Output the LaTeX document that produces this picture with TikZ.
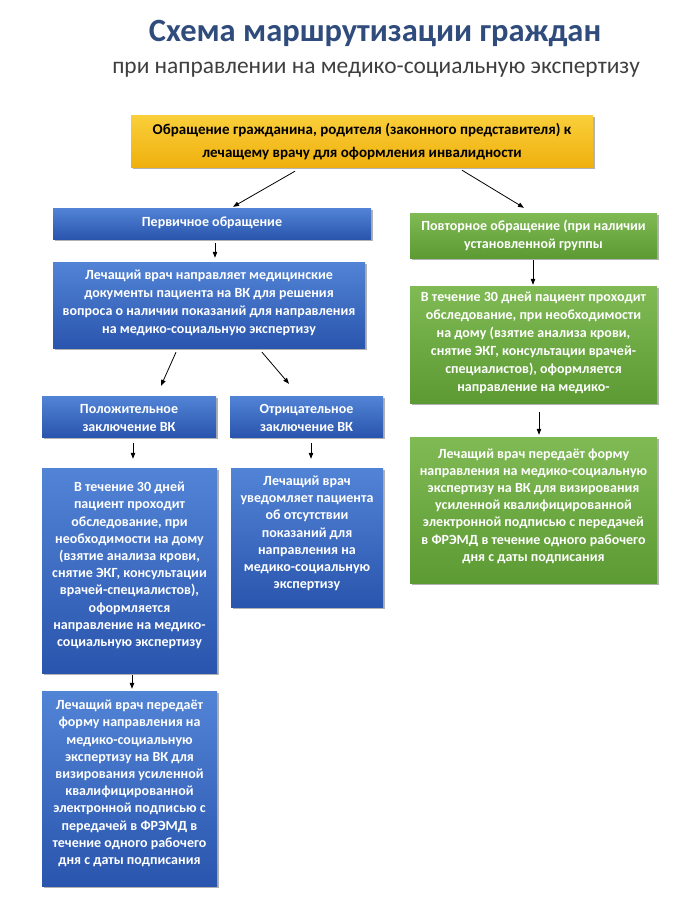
\documentclass[tikz,border=0pt]{standalone}
\usepackage{fontspec}
\setmainfont{Carlito}
\usetikzlibrary{arrows.meta,shadows}
\definecolor{titleblue}{HTML}{2F4C7C}
\definecolor{subgray}{HTML}{3F3F3F}
\definecolor{blueT}{HTML}{5284D6}
\definecolor{blueB}{HTML}{2A55AE}
\definecolor{greenT}{HTML}{80BA55}
\definecolor{greenB}{HTML}{5C9A33}
\definecolor{yellowT}{HTML}{FACF3A}
\definecolor{yellowB}{HTML}{EFB00E}
\begin{document}
\begin{tikzpicture}[x=1pt,y=-1pt,
  box/.style={rectangle, draw=none, inner sep=0pt,
    drop shadow={shadow xshift=2pt,shadow yshift=-2pt,opacity=0.3,fill=black}},
  bluebox/.style={box, top color=blueT, bottom color=blueB},
  greenbox/.style={box, top color=greenT, bottom color=greenB},
  yellowbox/.style={box, top color=yellowT, bottom color=yellowB},
  txt/.style={text=white, align=center, inner sep=0pt,
    font=\bfseries\fontsize{14}{17.2}\selectfont},
  ytxt/.style={text=black, align=center, inner sep=0pt,
    font=\bfseries\fontsize{15}{23}\selectfont},
  arr/.style={-{Triangle[length=6pt,width=4.5pt]}, line width=0.8pt, black}
]
\useasboundingbox (0,0) rectangle (700,900);
\fill[white] (0,0) rectangle (700,900);

% titles
\node[anchor=base, text=titleblue, font=\bfseries\fontsize{32.5}{38}\selectfont, inner sep=0pt] (title) at (375,41) {Схема маршрутизации граждан};
\node[anchor=base, text=subgray, font=\fontsize{23.4}{28}\selectfont, inner sep=0pt] (subtitle) at (376,73) {при направлении на медико-социальную экспертизу};

% boxes
\node[yellowbox, minimum width=462pt, minimum height=52pt] (yel) at (362,141) {};
\node[ytxt] (tyel) at (362,141.5) {Обращение гражданина, родителя (законного представителя) к\\лечащему врачу для оформления инвалидности};

\node[bluebox, minimum width=318pt, minimum height=31pt] (p1) at (212,223.5) {};
\node[txt] (tp1) at (212,222.5) {Первичное обращение};

\node[bluebox, minimum width=312pt, minimum height=86pt] (b2) at (209,305) {};
\node[txt, font=\bfseries\fontsize{14}{18}\selectfont] (tb2) at (209,303) {Лечащий врач направляет медицинские\\документы пациента на ВК для решения\\вопроса о наличии показаний для направления\\на медико-социальную экспертизу};

\node[bluebox, minimum width=174pt, minimum height=41pt] (pos) at (129,416.5) {};
\node[txt] (tpos) at (129,418) {Положительное\\заключение ВК};

\node[bluebox, minimum width=153pt, minimum height=41pt] (neg) at (306.5,416.5) {};
\node[txt] (tneg) at (306.5,418) {Отрицательное\\заключение ВК};

\node[bluebox, minimum width=175pt, minimum height=205pt] (b5) at (129.5,570.5) {};
\node[txt] (tb5) at (129.5,565.5) {В течение 30 дней\\пациент проходит\\обследование, при\\необходимости на дому\\(взятие анализа крови,\\снятие ЭКГ, консультации\\врачей-специалистов),\\оформляется\\направление на медико-\\социальную экспертизу};

\node[bluebox, minimum width=152pt, minimum height=139pt] (b6) at (307,537.5) {};
\node[txt] (tb6) at (307,533.5) {Лечащий врач\\уведомляет пациента\\об отсутствии\\показаний для\\направления на\\медико-социальную\\экспертизу};

\node[bluebox, minimum width=175pt, minimum height=195pt] (b7) at (129.5,788.5) {};
\node[txt] (tb7) at (129.5,783.5) {Лечащий врач передаёт\\форму направления на\\медико-социальную\\экспертизу на ВК для\\визирования усиленной\\квалифицированной\\электронной подписью с\\передачей в ФРЭМД в\\течение одного рабочего\\дня с даты подписания};

\node[greenbox, minimum width=247pt, minimum height=45pt] (g1) at (533.5,235.5) {};
\node[txt] (tg1) at (533.5,235.5) {Повторное обращение (при наличии\\установленной группы};

\node[greenbox, minimum width=247pt, minimum height=117pt] (g2) at (533.5,344.5) {};
\node[txt, font=\bfseries\fontsize{14}{18}\selectfont] (tg2) at (533.5,343) {В течение 30 дней пациент проходит\\обследование, при необходимости\\на дому (взятие анализа крови,\\снятие ЭКГ, консультации врачей-\\специалистов), оформляется\\направление на медико-};

\node[greenbox, minimum width=247pt, minimum height=146pt] (g3) at (533.5,510) {};
\node[txt] (tg3) at (533.5,506) {Лечащий врач передаёт форму\\направления на медико-социальную\\экспертизу на ВК для визирования\\усиленной квалифицированной\\электронной подписью с передачей\\в ФРЭМД в течение одного рабочего\\дня с даты подписания};

% connectors
\draw[arr] ([xshift=-67pt,yshift=-4pt]yel.south) -- ([xshift=21pt,yshift=1pt]p1.north);
\draw[arr] ([xshift=100pt,yshift=-3pt]yel.south) -- ([xshift=-9.5pt,yshift=5pt]g1.north);
\draw[arr] ([xshift=3pt,yshift=-4pt]p1.south) -- ([xshift=6pt,yshift=4pt]b2.north);
\draw[arr] ([xshift=-33pt,yshift=-4pt]b2.south) -- ([xshift=32pt,yshift=10pt]pos.north);
\draw[arr] ([xshift=53pt,yshift=-4pt]b2.south) -- ([xshift=-17.5pt,yshift=12pt]neg.north);
\draw[arr] ([xshift=4pt,yshift=-6pt]pos.south) -- ([xshift=3.5pt,yshift=9pt]b5.north);
\draw[arr] ([xshift=4.5pt,yshift=-6pt]neg.south) -- ([xshift=4pt,yshift=9pt]b6.north);
\draw[arr] ([xshift=2.5pt,yshift=-2pt]b5.south) -- ([xshift=2.5pt,yshift=2pt]b7.north);
\draw[arr] ([xshift=-0.5pt,yshift=-2pt]g1.south) -- ([xshift=-0.5pt,yshift=1pt]g2.north);
\draw[arr] ([xshift=5.5pt,yshift=-9pt]g2.south) -- ([xshift=5.5pt,yshift=2pt]g3.north);
\end{tikzpicture}
\end{document}
